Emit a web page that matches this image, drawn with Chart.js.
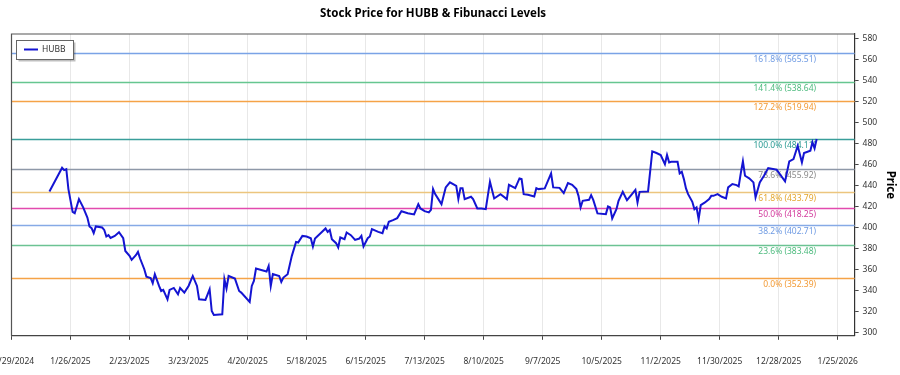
<!DOCTYPE html>
<html><head><meta charset="utf-8">
<script src="https://cdn.jsdelivr.net/npm/chart.js@4.4.1/dist/chart.umd.min.js"></script>
<style>html,body{margin:0;padding:0;background:#fff}#wrap{width:900px;height:375px;position:relative}</style>
</head><body><div id="wrap"><canvas id="c" width="900" height="375"></canvas></div>
<script>
const chartTitle = 'Stock Price for HUBB & Fibunacci Levels';
const seriesName = 'HUBB';
const yAxisTitle = 'Price';

const dates = [
'2025-01-16','2025-01-22','2025-01-23','2025-01-24','2025-01-25','2025-01-27','2025-01-28','2025-01-30','2025-02-01','2025-02-03',
'2025-02-04','2025-02-05','2025-02-06','2025-02-07','2025-02-10','2025-02-11','2025-02-12','2025-02-13','2025-02-14','2025-02-16',
'2025-02-18','2025-02-20','2025-02-21','2025-02-23','2025-02-24','2025-02-26','2025-02-27','2025-02-28','2025-03-02','2025-03-03',
'2025-03-05','2025-03-06','2025-03-07','2025-03-09','2025-03-10','2025-03-11','2025-03-13','2025-03-14','2025-03-16','2025-03-18',
'2025-03-19','2025-03-21','2025-03-23','2025-03-25','2025-03-27','2025-03-28','2025-03-31','2025-04-01','2025-04-02','2025-04-03',
'2025-04-04','2025-04-08','2025-04-09','2025-04-10','2025-04-11','2025-04-14','2025-04-16','2025-04-17','2025-04-21','2025-04-22',
'2025-04-23','2025-04-24','2025-04-29','2025-04-30','2025-05-01','2025-05-02','2025-05-05','2025-05-06','2025-05-07','2025-05-09',
'2025-05-11','2025-05-13','2025-05-14','2025-05-16','2025-05-18','2025-05-20','2025-05-21','2025-05-22','2025-05-25','2025-05-27',
'2025-05-28','2025-05-29','2025-05-30','2025-06-01','2025-06-02','2025-06-03','2025-06-05','2025-06-06','2025-06-08','2025-06-10',
'2025-06-12','2025-06-13','2025-06-14','2025-06-16','2025-06-17','2025-06-18','2025-06-21','2025-06-23','2025-06-24','2025-06-25',
'2025-06-26','2025-06-28','2025-06-30','2025-07-02','2025-07-05','2025-07-08','2025-07-10','2025-07-11','2025-07-13','2025-07-15',
'2025-07-16','2025-07-17','2025-07-18','2025-07-21','2025-07-23','2025-07-25','2025-07-28','2025-07-29','2025-07-30','2025-07-31',
'2025-08-01','2025-08-04','2025-08-05','2025-08-07','2025-08-09','2025-08-11','2025-08-13','2025-08-15','2025-08-18','2025-08-21',
'2025-08-22','2025-08-25','2025-08-27','2025-08-28','2025-08-29','2025-08-31','2025-09-03','2025-09-04','2025-09-05','2025-09-08',
'2025-09-11','2025-09-12','2025-09-15','2025-09-17','2025-09-19','2025-09-21','2025-09-23','2025-09-24','2025-09-25','2025-09-26',
'2025-09-29','2025-09-30','2025-10-01','2025-10-03','2025-10-07','2025-10-08','2025-10-09','2025-10-10','2025-10-12','2025-10-13',
'2025-10-15','2025-10-17','2025-10-19','2025-10-21','2025-10-22','2025-10-23','2025-10-27','2025-10-29','2025-10-31','2025-11-02',
'2025-11-04','2025-11-05','2025-11-06','2025-11-07','2025-11-10','2025-11-11','2025-11-12','2025-11-13','2025-11-14','2025-11-15',
'2025-11-17','2025-11-18','2025-11-19','2025-11-20','2025-11-21','2025-11-23','2025-11-25','2025-11-26','2025-11-27','2025-11-29',
'2025-12-01','2025-12-03','2025-12-04','2025-12-06','2025-12-08','2025-12-09','2025-12-10','2025-12-11','2025-12-12','2025-12-14',
'2025-12-16','2025-12-17','2025-12-19','2025-12-21','2025-12-23','2025-12-27','2025-12-31','2026-01-02','2026-01-04','2026-01-06',
'2026-01-08','2026-01-09','2026-01-12','2026-01-13','2026-01-14','2026-01-15'
];

const prices = [
434.3,456.8,454.6,455.5,436.5,414.9,413.6,427.0,419.1,409.5,
401.0,399.4,394.6,401.0,400.0,397.7,391.4,392.7,390.1,392.0,
395.5,389.8,377.7,373.0,369.2,373.6,376.8,370.5,360.3,353.3,
352.0,347.0,355.5,344.4,339.6,340.6,331.7,340.6,342.5,336.5,
342.5,338.1,344.4,353.9,344.4,331.7,331.1,336.2,341.3,320.6,
316.8,317.4,350.8,341.9,353.9,351.4,339.6,338.1,329.2,344.4,
349.2,361.0,358.1,363.4,344.4,355.8,353.9,348.2,352.4,355.5,
373.0,386.3,385.7,392.0,391.4,389.8,381.9,389.5,395.3,399.1,
395.8,397.7,388.9,385.1,381.0,390.5,388.9,395.3,392.7,388.2,
389.5,392.0,381.9,389.8,391.4,398.4,395.8,394.6,401.0,399.1,
405.4,407.0,408.9,415.5,413.6,412.4,422.2,418.1,415.5,414.3,
416.8,436.5,431.7,422.2,438.1,442.9,439.6,427.0,437.4,437.4,
427.0,429.2,427.0,418.1,418.1,417.4,443.4,427.6,431.7,427.0,
440.6,437.4,446.7,446.0,431.7,431.1,429.5,437.4,436.5,437.2,
451.4,438.1,437.7,432.7,442.2,440.6,436.5,430.1,419.1,425.4,
426.3,430.8,426.3,413.4,412.7,420.0,419.1,408.6,417.4,425.4,
433.9,426.0,430.8,435.8,423.8,433.9,434.3,472.4,470.8,468.9,
460.3,468.9,461.9,462.5,462.5,451.4,453.0,446.0,437.2,431.7,
424.4,417.4,419.1,407.9,421.3,423.8,427.0,430.1,430.1,431.7,
429.2,427.6,438.1,441.3,440.3,439.1,451.7,462.9,449.2,446.7,
442.9,428.6,442.9,449.2,456.5,454.9,443.8,462.9,465.1,477.7,
461.9,470.8,473.0,481.0,475.3,484.1
];

const xTickLabels = ['12/29/2024','1/26/2025','2/23/2025','3/23/2025','4/20/2025','5/18/2025','6/15/2025','7/13/2025','8/10/2025','9/7/2025','10/5/2025','11/2/2025','11/30/2025','12/28/2025','1/25/2026'];
const xRange = ['12/29/2024','2/2/2026'];
const yTickValues = [300,320,340,360,380,400,420,440,460,480,500,520,540,560,580];
const yRange = [297, 584];

const fibPercents = ['161.8%','141.4%','127.2%','100.0%','78.6%','61.8%','50.0%','38.2%','23.6%','0.0%'];
const fibValues = [565.51,538.64,519.94,484.11,455.92,433.79,418.25,402.71,383.48,352.39];
const fibLineColors = ['#7aa3e6','#66c690','#f5a347','#3a9e9a','#8e98a8','#ecc57e','#e24aae','#86aae6','#6cc393','#f5a347'];
const fibTextColors = ['#6f9be3','#4dbb7e','#f29a35','#2a9a93','#8a8a8a','#e3a62e','#d23a9c','#6f9be3','#4dbb7e','#f29a35'];

function parseMDY(s){const p=s.split('/');return Date.UTC(+p[2],+p[0]-1,+p[1]);}
function parseISO(s){const p=s.split('-');return Date.UTC(+p[0],+p[1]-1,+p[2]);}
const xTickValues = xTickLabels.map(parseMDY);
const points = dates.map((d,i)=>({x:parseISO(d), y:prices[i]}));

const FONT = 'Noto Sans';

const fibPlugin = {
  id:'fib',
  beforeDatasetsDraw(chart){
    const {ctx, chartArea:a, scales:{y}} = chart;
    ctx.save();
    fibValues.forEach((v,i)=>{
      const py = Math.round(y.getPixelForValue(v))+0.5;
      ctx.strokeStyle = fibLineColors[i];
      ctx.lineWidth = 1.5;
      ctx.beginPath(); ctx.moveTo(a.left,py); ctx.lineTo(a.right,py); ctx.stroke();
      ctx.fillStyle = fibTextColors[i];
      ctx.font = '8.5px "'+FONT+'"';
      ctx.textAlign='right'; ctx.textBaseline='middle';
      ctx.fillText(fibPercents[i]+' ('+v.toFixed(2)+')', a.right-38.5, py+6);
    });
    ctx.restore();
  }
};

const framePlugin = {
  id:'frame',
  afterDraw(chart){
    const {ctx, chartArea:a} = chart;
    ctx.save();
    ctx.strokeStyle='#555'; ctx.lineWidth=1.2;
    ctx.beginPath();
    ctx.moveTo(a.left, a.bottom); ctx.lineTo(a.left, a.top); ctx.lineTo(a.right, a.top);
    ctx.stroke();
    ctx.fillStyle='#000';
    ctx.font='bold 11.5px "'+FONT+'"';
    ctx.textAlign='center'; ctx.textBaseline='middle';
    ctx.fillText(chartTitle, (a.left+a.right)/2, 14);
    const lx=16.5, ly=40.5, lw=57, lh=19;
    ctx.fillStyle='rgba(0,0,0,0.25)';
    ctx.fillRect(lx+2, ly+2, lw, lh);
    ctx.fillStyle='#fff';
    ctx.fillRect(lx, ly, lw, lh);
    ctx.strokeStyle='#666'; ctx.lineWidth=1;
    ctx.strokeRect(lx, ly, lw, lh);
    ctx.strokeStyle='#1414d2'; ctx.lineWidth=2;
    ctx.beginPath(); ctx.moveTo(24, 49.5); ctx.lineTo(38, 49.5); ctx.stroke();
    ctx.fillStyle='#333';
    ctx.font='8.5px "'+FONT+'"';
    ctx.textAlign='left'; ctx.textBaseline='middle';
    ctx.fillText(seriesName, 42, 49.5);
    ctx.restore();
  }
};

new Chart(document.getElementById('c'), {
  type:'line',
  data:{datasets:[{label:seriesName, data:points, borderColor:'#1414d2', borderWidth:2, pointRadius:0, tension:0, fill:false}]},
  options:{
    responsive:false, animation:false, devicePixelRatio:1,
    layout:{padding:{left:11.5, top:34, right:0, bottom:-9}},
    plugins:{legend:{display:false}, title:{display:false}, tooltip:{enabled:false}},
    scales:{
      x:{type:'linear', min:parseMDY(xRange[0]), max:parseMDY(xRange[1]),
        afterBuildTicks:s=>{s.ticks = xTickValues.map(v=>({value:v}));},
        afterFit:s=>{s.paddingLeft=0; s.paddingRight=0;},
        ticks:{callback:(v,i)=>xTickLabels[i], font:{family:FONT,size:8.5}, color:'#333', padding:17, maxRotation:0, autoSkip:false},
        grid:{color:'#e8e8e8', tickColor:'#444', tickLength:4, lineWidth:1},
        border:{color:'#444', width:1.2}
      },
      y:{type:'linear', position:'right', min:yRange[0], max:yRange[1],
        afterBuildTicks:s=>{s.ticks = yTickValues.map(v=>({value:v}));},
        ticks:{font:{family:FONT,size:8.5}, color:'#333', padding:4},
        grid:{drawOnChartArea:false, tickColor:'#444', tickLength:4},
        border:{color:'#333', dash:[1,1], width:1.2},
        title:{display:true, text:yAxisTitle, font:{family:FONT,size:11.5,weight:'bold'}, color:'#000', padding:{top:3,bottom:2}}
      }
    }
  },
  plugins:[fibPlugin, framePlugin]
});
</script></body></html>
